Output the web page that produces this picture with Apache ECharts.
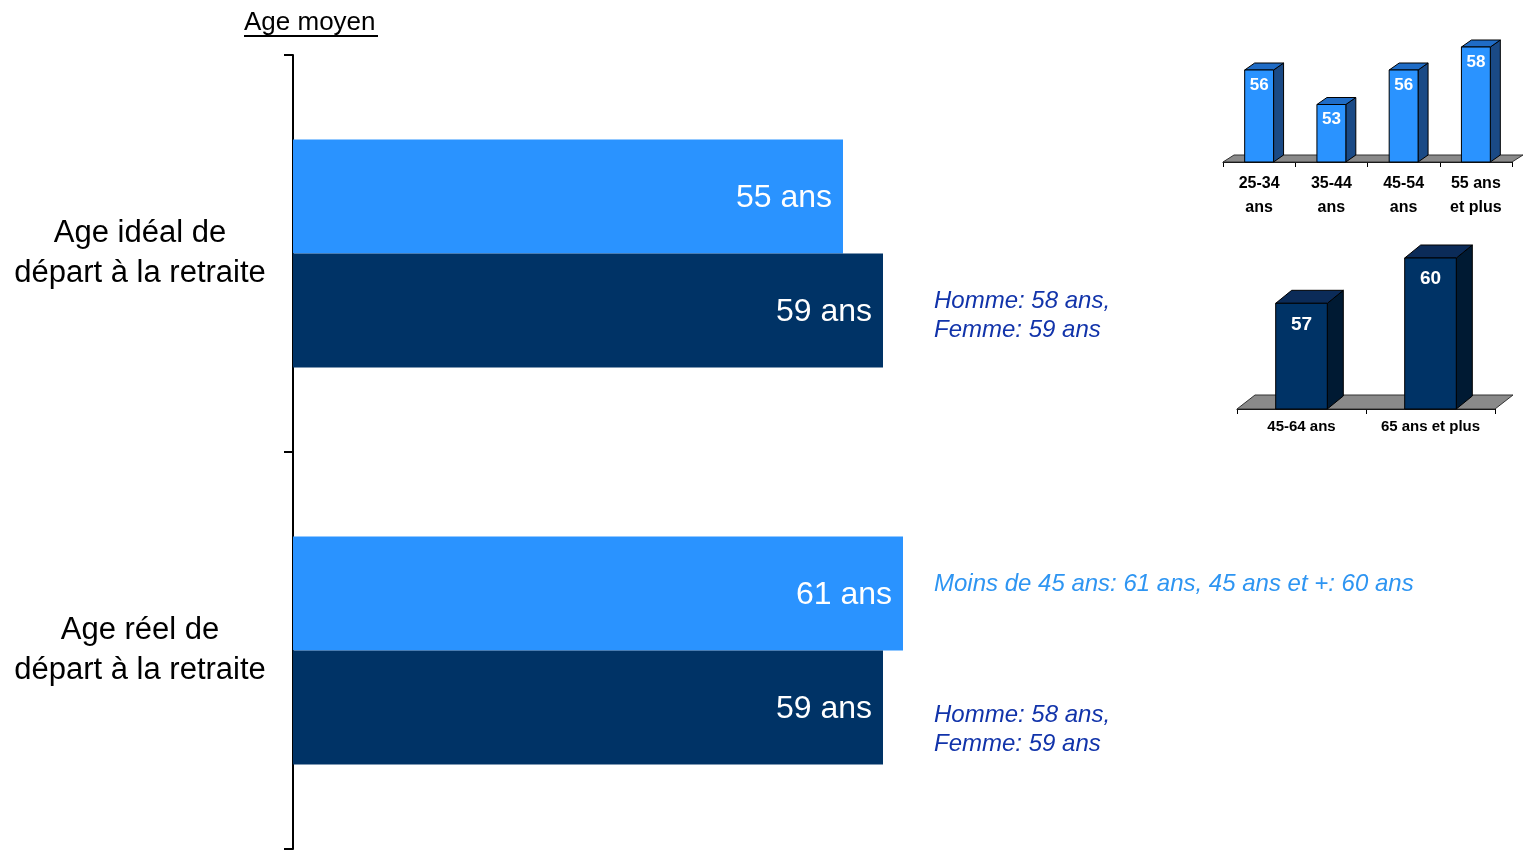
<!DOCTYPE html>
<html>
<head>
<meta charset="utf-8">
<script src="https://cdn.jsdelivr.net/npm/echarts@6/dist/echarts.min.js"></script>
<style>html,body{margin:0;padding:0;background:#fff;}#c{width:1524px;height:850px;}</style>
</head>
<body>
<div id="c"></div>
<script>
// ---- data ----
var categories = ['Age idéal de\ndépart à la retraite', 'Age réel de\ndépart à la retraite'];
var seriesLight = [55, 61];
var seriesDark = [59, 59];
var labelSuffix = ' ans';

var inset1Cats = ['25-34\nans', '35-44\nans', '45-54\nans', '55 ans\net plus'];
var inset1Vals = [56, 53, 56, 58];
var inset2Cats = ['45-64 ans', '65 ans et plus'];
var inset2Vals = [57, 60];

var noteIdeal = 'Homme: 58 ans,\nFemme: 59 ans';
var noteReelLight = 'Moins de 45 ans: 61 ans, 45 ans et +: 60 ans';
var noteReelDark = 'Homme: 58 ans,\nFemme: 59 ans';
var axisTitle = 'Age moyen';

var FONT = "'Liberation Sans', Arial, Helvetica, sans-serif";

function bar3d(dx, dy, colors, ratio, labelFont, labelOffset) {
  return function (params, api) {
    var cs = params.coordSys;
    var base = cs.y + cs.height;
    var p = api.coord([api.value(0), api.value(1)]);
    var bw = api.size([1, 0])[0] * ratio;
    var x = p[0] - bw / 2, y = p[1];
    var st = { stroke: '#000', lineWidth: 1 };
    return {
      type: 'group',
      children: [
        { type: 'polygon', shape: { points: [[x + bw, y], [x + bw + dx, y + dy], [x + bw + dx, base + dy], [x + bw, base]] },
          style: Object.assign({ fill: colors.side }, st) },
        { type: 'polygon', shape: { points: [[x, y], [x + bw, y], [x + bw + dx, y + dy], [x + dx, y + dy]] },
          style: Object.assign({ fill: colors.top }, st) },
        { type: 'rect', shape: { x: x, y: y, width: bw, height: base - y },
          style: Object.assign({ fill: colors.front }, st) },
        { type: 'text', style: { text: String(api.value(1)), x: p[0], y: y + labelOffset, fill: '#fff',
          font: labelFont, align: 'center', verticalAlign: 'middle' } }
      ]
    };
  };
}
function floor(dx, dy) {
  return function (params, api) {
    var cs = params.coordSys;
    var b = cs.y + cs.height, l = cs.x, r = cs.x + cs.width;
    return {
      type: 'polygon',
      shape: { points: [[l, b], [r, b], [r + dx, b + dy], [l + dx, b + dy]] },
      style: { fill: '#8a8a8a', stroke: '#333', lineWidth: 1 }
    };
  };
}

var chart = echarts.init(document.getElementById('c'));
var option = {
  animation: false,
  backgroundColor: '#fff',
  textStyle: { fontFamily: FONT },
  grid: [
    { left: 293, top: 55, width: 1000, height: 794 },
    { left: 1223, top: 47, width: 289, height: 115 },
    { left: 1237, top: 258, width: 258, height: 151 }
  ],
  xAxis: [
    { type: 'value', gridIndex: 0, min: 0, max: 100, show: false },
    { type: 'category', gridIndex: 1, data: inset1Cats,
      axisLine: { lineStyle: { color: '#000', width: 1 } },
      axisTick: { show: true, length: 5, lineStyle: { color: '#000' } },
      axisLabel: { color: '#000', fontWeight: 'bold', fontSize: 16, lineHeight: 24, margin: 10, fontFamily: FONT } },
    { type: 'category', gridIndex: 2, data: inset2Cats,
      axisLine: { lineStyle: { color: '#000', width: 1 } },
      axisTick: { show: true, length: 5, lineStyle: { color: '#000' } },
      axisLabel: { color: '#000', fontWeight: 'bold', fontSize: 15, margin: 10, fontFamily: FONT } }
  ],
  yAxis: [
    { type: 'category', gridIndex: 0, inverse: true, data: categories,
      axisLine: { show: true, lineStyle: { color: '#000', width: 2 } },
      axisTick: { show: true, inside: false, length: 9, lineStyle: { color: '#000', width: 2 } },
      axisLabel: { color: '#000', fontSize: 31, lineHeight: 40, align: 'center', margin: 153, fontFamily: FONT } },
    { type: 'value', gridIndex: 1, min: 48, max: 58, show: false },
    { type: 'value', gridIndex: 2, min: 50, max: 60, show: false }
  ],
  series: [
    { type: 'bar', xAxisIndex: 0, yAxisIndex: 0, data: seriesLight, barWidth: 114, barGap: '0%',
      itemStyle: { color: '#2A93FF' },
      label: { show: true, position: 'insideRight', distance: 11, offset: [0, 2], color: '#fff', fontSize: 32, fontFamily: FONT,
        formatter: function (p) { return p.value + labelSuffix; } } },
    { type: 'bar', xAxisIndex: 0, yAxisIndex: 0, data: seriesDark, barWidth: 114, barGap: '0%',
      itemStyle: { color: '#003366' },
      label: { show: true, position: 'insideRight', distance: 11, offset: [0, 2], color: '#fff', fontSize: 32, fontFamily: FONT,
        formatter: function (p) { return p.value + labelSuffix; } } },
    { type: 'custom', xAxisIndex: 1, yAxisIndex: 1, clip: false, z: 1, silent: true,
      data: [[0, 48]], renderItem: floor(11, -7) },
    { type: 'custom', xAxisIndex: 1, yAxisIndex: 1, clip: false, z: 2,
      data: inset1Vals.map(function (v, i) { return [i, v]; }),
      renderItem: bar3d(10, -7, { front: '#2A93FF', top: '#1F6CC6', side: '#1A4A86' }, 0.4, 'bold 17px ' + FONT, 15) },
    { type: 'custom', xAxisIndex: 2, yAxisIndex: 2, clip: false, z: 1, silent: true,
      data: [[0, 50]], renderItem: floor(18, -14) },
    { type: 'custom', xAxisIndex: 2, yAxisIndex: 2, clip: false, z: 2,
      data: inset2Vals.map(function (v, i) { return [i, v]; }),
      renderItem: bar3d(16, -13, { front: '#003366', top: '#0B2B58', side: '#001A33' }, 0.4, 'bold 19px ' + FONT, 21) }
  ],
  graphic: [
    { type: 'text', left: 244, top: 10, style: { text: axisTitle, font: '26px ' + FONT, fill: '#000' } },
    { type: 'line', shape: { x1: 244, y1: 36, x2: 378, y2: 36 }, style: { stroke: '#000', lineWidth: 2 } },
    { type: 'text', left: 934, top: 287, style: { text: noteIdeal, font: 'italic 24px ' + FONT, lineHeight: 29, fill: '#1133AA' } },
    { type: 'text', left: 934, top: 570, style: { text: noteReelLight, font: 'italic 24px ' + FONT, lineHeight: 29, fill: '#2E95F2' } },
    { type: 'text', left: 934, top: 701, style: { text: noteReelDark, font: 'italic 24px ' + FONT, lineHeight: 29, fill: '#1133AA' } }
  ]
};
chart.setOption(option);
</script>
</body>
</html>
